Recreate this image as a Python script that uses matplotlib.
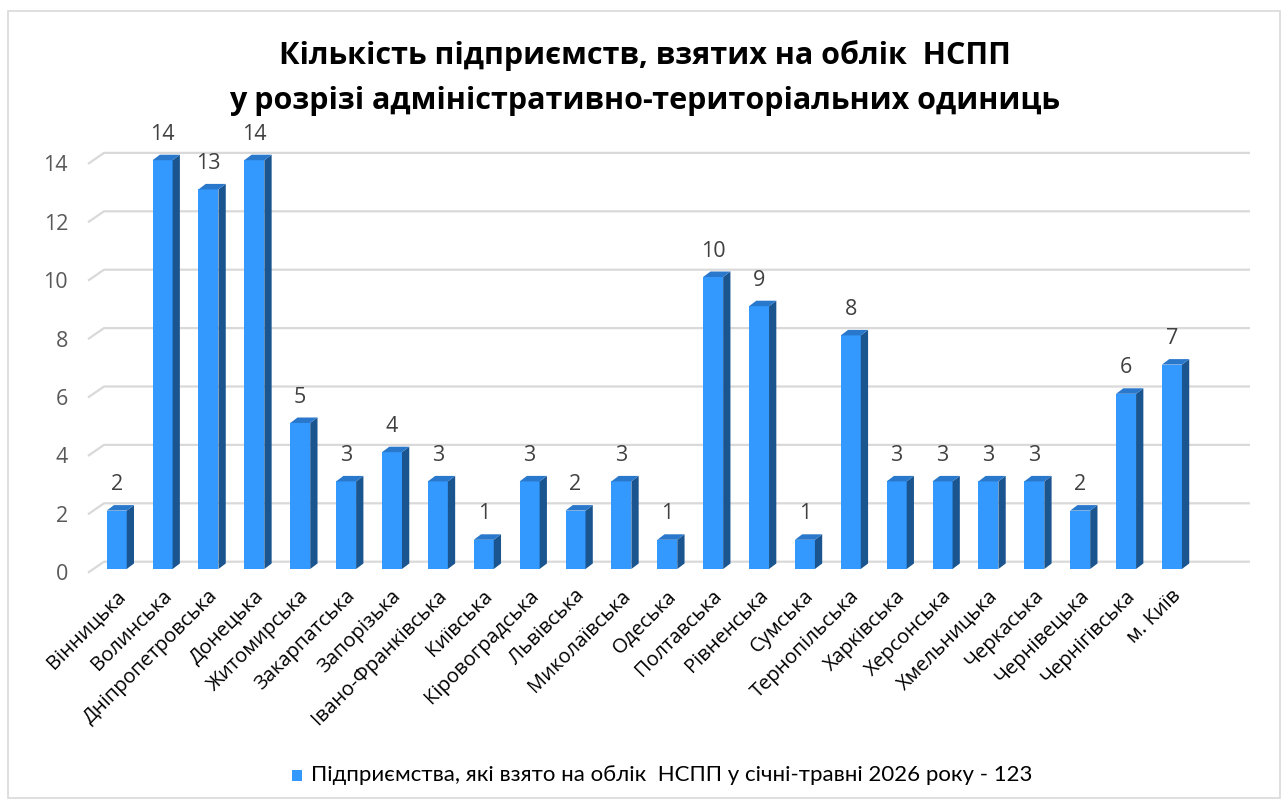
import matplotlib
matplotlib.use("Agg")
import matplotlib.pyplot as plt
from matplotlib.patches import Polygon, Rectangle
import numpy as np

categories = ["Вінницька", "Волинська", "Дніпропетровська", "Донецька", "Житомирська",
              "Закарпатська", "Запорізька", "Івано-Франківська", "Київська", "Кіровоградська",
              "Львівська", "Миколаївська", "Одеська", "Полтавська", "Рівненська", "Сумська",
              "Тернопільська", "Харківська", "Херсонська", "Хмельницька", "Черкаська",
              "Чернівецька", "Чернігівська", "м. Київ"]
values = [2, 14, 13, 14, 5, 3, 4, 3, 1, 3, 2, 3, 1, 10, 9, 1, 8, 3, 3, 3, 3, 2, 6, 7]
yticks = [0, 2, 4, 6, 8, 10, 12, 14]
title = "Кількість підприємств, взятих на облік  НСПП\nу розрізі адміністративно-територіальних одиниць"
legend_label = "Підприємства, які взято на облік  НСПП у січні-травні 2026 року - 123"

W, H = 1283, 805
fig = plt.figure(figsize=(W / 100, H / 100), dpi=100)
fig.patch.set_facecolor("white")

# frame
fig.add_artist(Rectangle((8 / W, 1 - 798 / H), (1280 - 8) / W, (798 - 11) / H,
                         transform=fig.transFigure, fill=False, ec="#D9D9D9", lw=1.2))

# pixel geometry
px_x0, px_step = 116.7, 45.88      # front centre of first bar, spacing
px_y0, px_unit = 569.0, 29.2       # front baseline, px per unit
L, R, T = 80, 1255, 140
ax = fig.add_axes([L / W, 1 - px_y0 / H, (R - L) / W, (px_y0 - T) / H])
ax.set_xlim((L - px_x0) / px_step, (R - px_x0) / px_step)
ax.set_ylim(0, (px_y0 - T) / px_unit)
ax.axis("off")

sx = 1 / px_step
sy = 1 / px_unit
# back wall gridlines
back_dy = 7.3 * sy
left_back = (104 - px_x0) * sx
left_front = (88 - px_x0) * sx
right_back = (1250 - px_x0) * sx
front_dy = -3.7 * sy
for v in yticks:
    ax.plot([left_front, left_back, right_back], [v + front_dy, v + back_dy, v + back_dy],
            color="#D9D9D9", lw=1.6, clip_on=False, zorder=1, solid_capstyle="butt")
    ax.text(left_front - 20 * sx, v + front_dy - 2 * sy, str(v), ha="right", va="center",
            fontsize=15.5, color="#595959", family="Open Sans")

# 3D bars
bw = 20 * sx
ddx, ddy = 7.3 * sx, 5.5 * sy
front_c, side_c, top_c = "#3399FF", "#1B5590", "#2A78CC"
x = np.arange(len(categories))
ax.bar(x, values, width=bw, color=front_c, zorder=3, linewidth=0)
for xi, v in zip(x, values):
    xr = xi + bw / 2
    xl = xi - bw / 2
    ax.add_patch(Polygon([(xr, 0), (xr + ddx, ddy), (xr + ddx, v + ddy), (xr, v)],
                         closed=True, fc=side_c, ec="none", zorder=3))
    ax.add_patch(Polygon([(xl, v), (xl + ddx, v + ddy), (xr + ddx, v + ddy), (xr, v)],
                         closed=True, fc=top_c, ec="none", zorder=3))
    ax.text(xi, v + 26 * sy, str(v), ha="center", va="center", fontsize=15.5,
            color="#404040", family="Open Sans")

# category labels
for xi, c in zip(x, categories):
    ax.text(xi + 6 * sx, -24 * sy, c, rotation=45, rotation_mode="anchor",
            ha="right", va="center", fontsize=14.5, color="#000000", family="Open Sans",
            clip_on=False)

fig.text(645 / W, 1 - 56 / H, title.split("\n")[0], ha="center", va="center",
         fontsize=22, fontweight="bold", family="Open Sans")
fig.text(645 / W, 1 - 101 / H, title.split("\n")[1], ha="center", va="center",
         fontsize=22, fontweight="bold", family="Open Sans")

# legend
fig.add_artist(Rectangle((292 / W, 1 - 781 / H), 10 / W, 11 / H, transform=fig.transFigure,
                         fc=front_c, ec="none"))
fig.text(311 / W, 1 - 775 / H, legend_label, ha="left", va="center", fontsize=16,
         family="Lato", color="#000000")

fig.savefig("out.png", dpi=100)
